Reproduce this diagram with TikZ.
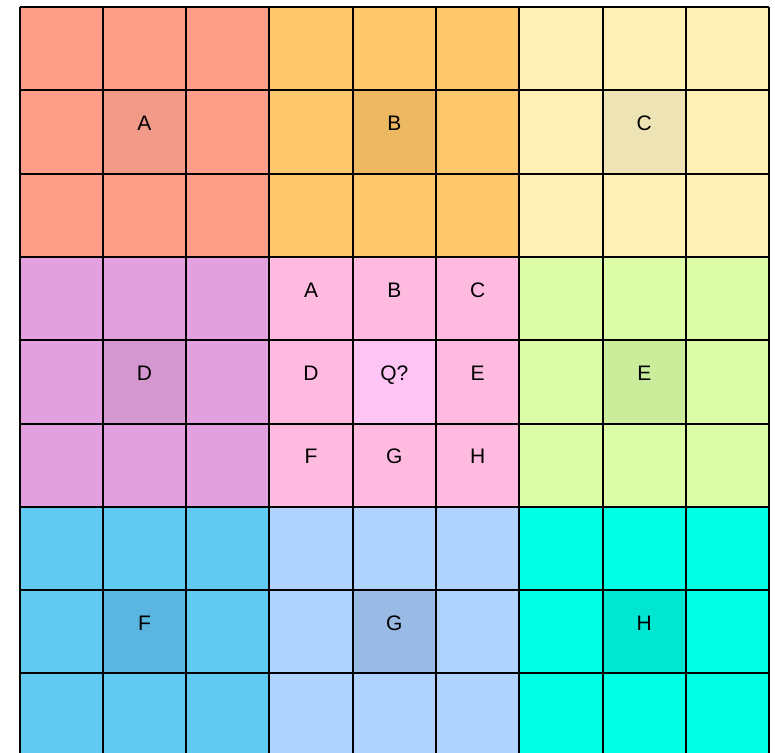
\documentclass[tikz,border=0pt]{standalone}
\usepackage{fontspec}
\setmainfont{Liberation Sans}
\definecolor{b00}{HTML}{FF9E88}\definecolor{c00}{HTML}{F29A88}
\definecolor{b01}{HTML}{FFC76B}\definecolor{c01}{HTML}{ECB862}
\definecolor{b02}{HTML}{FFF0B8}\definecolor{c02}{HTML}{EEE3B5}
\definecolor{b10}{HTML}{E3A0DE}\definecolor{c10}{HTML}{D597D0}
\definecolor{b11}{HTML}{FFBAE0}\definecolor{c11}{HTML}{FDC4F4}
\definecolor{b12}{HTML}{DDFCA8}\definecolor{c12}{HTML}{CBEC9A}
\definecolor{b20}{HTML}{60CAF2}\definecolor{c20}{HTML}{5AB5E0}
\definecolor{b21}{HTML}{B0D2FF}\definecolor{c21}{HTML}{98BAE4}
\definecolor{b22}{HTML}{00FFE4}\definecolor{c22}{HTML}{00E6D0}
\tikzset{
  gridline/.style={draw=black,line width=2pt},
  lbl/.style={anchor=base,inner sep=0pt,font=\fontsize{21}{25}\selectfont}
}
\begin{document}
\begin{tikzpicture}[x=1pt,y=-1pt]
\useasboundingbox (0,0) rectangle (775,752);
\clip (0,0) rectangle (775,752);
\pgfmathsetmacro{\s}{83.3}
\pgfmathsetmacro{\xo}{19.5}
\pgfmathsetmacro{\yo}{7}
\pgfmathsetmacro{\yt}{\yo-1.5}
\foreach \r in {0,...,8}{
  \foreach \c in {0,...,8}{
    \pgfmathtruncatemacro{\br}{int(\r/3)}
    \pgfmathtruncatemacro{\bc}{int(\c/3)}
    \pgfmathtruncatemacro{\ir}{\r-3*\br}
    \pgfmathtruncatemacro{\ic}{\c-3*\bc}
    \pgfmathtruncatemacro{\iscenter}{(\ir==1 && \ic==1) ? 1 : 0}
    \ifnum\iscenter=1
      \def\col{c\br\bc}
    \else
      \def\col{b\br\bc}
    \fi
    \path[fill=\col] (\xo+\c*\s,\yo+\r*\s) rectangle ++(\s,\s);
  }
}
\foreach \i in {0,...,9}{
  \draw[gridline] (\xo+\i*\s,\yo) -- (\xo+\i*\s,\yo+9*\s);
  \draw[gridline] (\xo,\yo+\i*\s) -- (\xo+9*\s,\yo+\i*\s);
}
% outer block labels
\node[lbl] (oA) at (\xo+1.5*\s,\yt+1.5*\s) {A};
\node[lbl] (oB) at (\xo+4.5*\s,\yt+1.5*\s) {B};
\node[lbl] (oC) at (\xo+7.5*\s,\yt+1.5*\s) {C};
\node[lbl] (oD) at (\xo+1.5*\s,\yt+4.5*\s) {D};
\node[lbl] (oE) at (\xo+7.5*\s,\yt+4.5*\s) {E};
\node[lbl] (oF) at (\xo+1.5*\s,\yt+7.5*\s) {F};
\node[lbl] (oG) at (\xo+4.5*\s,\yt+7.5*\s) {G};
\node[lbl] (oH) at (\xo+7.5*\s,\yt+7.5*\s) {H};
% middle block labels
\node[lbl] (mA) at (\xo+3.5*\s,\yt+3.5*\s) {A};
\node[lbl] (mB) at (\xo+4.5*\s,\yt+3.5*\s) {B};
\node[lbl] (mC) at (\xo+5.5*\s,\yt+3.5*\s) {C};
\node[lbl] (mD) at (\xo+3.5*\s,\yt+4.5*\s) {D};
\node[lbl] (mQ) at (\xo+4.5*\s,\yt+4.5*\s) {Q?};
\node[lbl] (mE) at (\xo+5.5*\s,\yt+4.5*\s) {E};
\node[lbl] (mF) at (\xo+3.5*\s,\yt+5.5*\s) {F};
\node[lbl] (mG) at (\xo+4.5*\s,\yt+5.5*\s) {G};
\node[lbl] (mH) at (\xo+5.5*\s,\yt+5.5*\s) {H};
\end{tikzpicture}
\end{document}
